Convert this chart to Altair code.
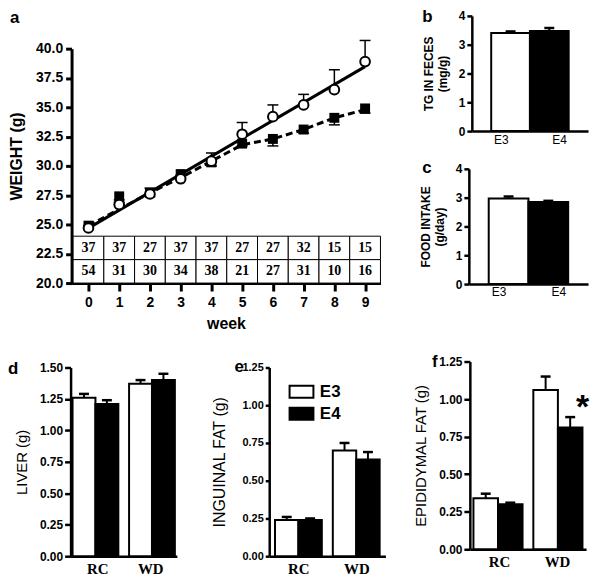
import altair as alt
import pandas as pd

W, H = 590, 570
SANS = "Liberation Sans"
SERIF = "Liberation Serif"

# ---------------- data ----------------
weeks = list(range(10))
e3_weight = [24.7, 26.7, 27.6, 28.9, 30.4, 32.7, 34.2, 35.2, 36.5, 38.9]
e3_sem = [0.2, 0.2, 0.5, 0.3, 0.7, 1.0, 1.0, 0.9, 1.7, 1.8]
e4_weight = [24.9, 27.4, 27.7, 29.3, 30.3, 31.9, 32.3, 33.1, 34.1, 34.9]
e4_sem = [0.2, 0.3, 0.3, 0.3, 0.3, 0.2, 0.6, 0.3, 0.6, 0.4]
e4_trend = [24.9, 26.3, 27.7, 29.0, 30.4, 31.8, 32.3, 33.1, 34.1, 34.8]
e3_n = [37, 37, 27, 37, 37, 27, 27, 32, 15, 15]
e4_n = [54, 31, 30, 34, 38, 21, 27, 31, 10, 16]
weight_ticks = [20.0, 22.5, 25.0, 27.5, 30.0, 32.5, 35.0, 37.5, 40.0]

genos = ["E3", "E4"]
tg_feces = [3.41, 3.48]
tg_feces_sem = [0.05, 0.10]
food_intake = [2.97, 2.85]
food_intake_sem = [0.07, 0.04]

diets = ["RC", "WD"]
liver_e3 = [1.26, 1.37]
liver_e3_sem = [0.03, 0.03]
liver_e4 = [1.21, 1.40]
liver_e4_sem = [0.03, 0.05]
inguinal_e3 = [0.24, 0.70]
inguinal_e3_sem = [0.02, 0.05]
inguinal_e4 = [0.24, 0.64]
inguinal_e4_sem = [0.01, 0.05]
epi_e3 = [0.34, 1.06]
epi_e3_sem = [0.03, 0.09]
epi_e4 = [0.30, 0.81]
epi_e4_sem = [0.01, 0.07]
epi_mark = ["", "", "", "*"]


def axis(**kw):
    base = dict(grid=False, domainColor="black", tickColor="black",
                labelColor="black", titleColor="black", labelFont=SANS,
                titleFont=SANS, domainWidth=2.5, tickWidth=2.5,
                labelFlush=False, labelOverlap=False)
    base.update(kw)
    return alt.Axis(**base)


fill_scale = alt.Scale(domain=genos, range=["white", "black"])
layers = []

# ---------------- panel a ----------------
wdf = pd.DataFrame({"week": weeks, "e3": e3_weight, "e3_sem": e3_sem,
                    "e4": e4_weight, "e4_sem": e4_sem, "e4_trend": e4_trend})
tdf = pd.DataFrame({"week": weeks + weeks, "n": e3_n + e4_n,
                    "geno": ["E3"] * 10 + ["E4"] * 10})

xs_a = alt.Scale(domain=[-0.55, 9.5], range=[64, 375], nice=False, zero=False)
ys_a = alt.Scale(domain=[20, 40], range=[275, 39], nice=False, zero=False)
x_axis_a = axis(orient="bottom", offset=275 - H, values=weeks, tickSize=8,
                tickWidth=3, domainWidth=3, labelFontSize=14,
                labelFontWeight="bold", labelPadding=5, title="week",
                titleFontSize=16, titleFontWeight="bold", titlePadding=6)
y_axis_a = axis(orient="left", offset=-64, values=weight_ticks, format=".1f",
                tickSize=6, tickWidth=3, domainWidth=3, labelFontSize=14,
                labelFontWeight="bold", labelPadding=3, title="WEIGHT (g)",
                titleFontSize=16, titleFontWeight="bold", titlePadding=11,
                titleY=147)


def XA(f):
    return alt.X(f, scale=xs_a, axis=None)


def YA(f):
    return alt.Y(f, scale=ys_a, axis=None)


tbase = alt.Chart(tdf).transform_calculate(
    x0="datum.week - 0.5", x1="datum.week + 0.5",
    y0="datum.geno == 'E3' ? 22 : 20", y1="datum.geno == 'E3' ? 24 : 22",
    ym="datum.geno == 'E3' ? 23 : 21")
layers.append(tbase.mark_rect(fill="white", stroke="black", strokeWidth=1).encode(
    x=XA("x0:Q"), x2="x1:Q", y=YA("y0:Q"), y2="y1:Q"))
layers.append(tbase.mark_text(font=SERIF, fontSize=14, fontWeight="bold",
                              color="black").encode(
    x=XA("week:Q"), y=YA("ym:Q"), text="n:N"))

wbase = alt.Chart(wdf).transform_calculate(
    e3_top="datum.e3 + datum.e3_sem", e4_bot="datum.e4 - datum.e4_sem")
layers.append(alt.Chart(wdf).transform_regression("week", "e3").mark_line(
    color="black", strokeWidth=3).encode(x=XA("week:Q"), y=YA("e3:Q")))
layers.append(wbase.mark_line(color="black", strokeWidth=3, strokeDash=[7, 4]).encode(
    x=XA("week:Q"), y=YA("e4_trend:Q")))
layers.append(wbase.mark_rule(color="black", strokeWidth=1.5).encode(
    x=XA("week:Q"), y=YA("e3:Q"), y2="e3_top:Q"))
layers.append(wbase.mark_tick(orient="horizontal", color="black", size=11,
                              thickness=1.5, opacity=1).encode(
    x=XA("week:Q"), y=YA("e3_top:Q")))
layers.append(wbase.mark_rule(color="black", strokeWidth=1.5).encode(
    x=XA("week:Q"), y=YA("e4:Q"), y2="e4_bot:Q"))
layers.append(wbase.mark_tick(orient="horizontal", color="black", size=11,
                              thickness=1.5, opacity=1).encode(
    x=XA("week:Q"), y=YA("e4_bot:Q")))
layers.append(wbase.mark_square(size=100, color="black", opacity=1).encode(
    x=XA("week:Q"), y=YA("e4:Q")))
layers.append(wbase.mark_point(shape="circle", size=95, filled=True, fill="white",
                               stroke="black", strokeWidth=2, opacity=1).encode(
    x=XA("week:Q"), y=YA("e3:Q")))
# axes of panel a (drawn on top)
layers.append(wbase.mark_point(opacity=0).encode(
    x=alt.X("week:Q", scale=xs_a, axis=x_axis_a),
    y=alt.Y("e3:Q", scale=ys_a, axis=y_axis_a)))


# ---------------- panels b, c ----------------
def geno_panel(vals, sems, xrange, yrange, title):
    df = pd.DataFrame({"geno": genos, "val": vals, "sem": sems})
    base = alt.Chart(df).transform_calculate(top="datum.val + datum.sem")
    xs = alt.Scale(domain=genos, range=xrange, paddingInner=0, paddingOuter=0.5)
    ys = alt.Scale(domain=[0, 4], range=yrange, nice=False, zero=True)
    xax = axis(orient="bottom", offset=yrange[0] - H, tickSize=0, ticks=False,
               labelFontSize=12, labelPadding=3, title=None, labelAngle=0)
    yax = axis(orient="left", offset=-xrange[0], values=[0, 1, 2, 3, 4],
               tickSize=5, labelFontSize=12, labelFontWeight="bold",
               labelPadding=2, title=title, titleFontSize=12,
               titleFontWeight="bold", titlePadding=9)
    out = [
        base.mark_bar(stroke="black", strokeWidth=2, opacity=1).encode(
            x=alt.X("geno:N", scale=xs, axis=None),
            y=alt.Y("val:Q", scale=ys, axis=None),
            fill=alt.Fill("geno:N", scale=fill_scale)),
        base.mark_rule(color="black", strokeWidth=2).encode(
            x=alt.X("geno:N", scale=xs, axis=None),
            y=alt.Y("val:Q", scale=ys, axis=None), y2="top:Q"),
        base.mark_tick(orient="horizontal", color="black", size=10,
                       thickness=2.5, opacity=1).encode(
            x=alt.X("geno:N", scale=xs, axis=None),
            y=alt.Y("top:Q", scale=ys, axis=None)),
        base.mark_point(opacity=0).encode(
            x=alt.X("geno:N", scale=xs, axis=xax),
            y=alt.Y("val:Q", scale=ys, axis=yax)),
    ]
    return out


layers += geno_panel(tg_feces, tg_feces_sem, [467, 584], [122, 6],
                     ["TG IN FECES", "(mg/g)"])
layers += geno_panel(food_intake, food_intake_sem, [464, 584], [276, 160],
                     ["FOOD INTAKE", "(g/day)"])


# ---------------- panels d, e, f ----------------
def diet_panel(e3v, e3s, e4v, e4s, xrange, yrange, ymax, yticks, title,
               title_size, label_size, tick_size, title_pad, pin, pout,
               legend=alt.Undefined, marks=None):
    df = pd.DataFrame({"diet": diets + diets, "geno": ["E3", "E3", "E4", "E4"],
                       "val": e3v + e4v, "sem": e3s + e4s})
    if marks is not None:
        df["mark"] = marks
    base = alt.Chart(df).transform_calculate(top="datum.val + datum.sem")
    xs = alt.Scale(domain=diets, range=xrange, paddingInner=pin, paddingOuter=pout)
    ys = alt.Scale(domain=[0, ymax], range=yrange, nice=False, zero=True)
    os_ = alt.Scale(domain=genos, paddingInner=0, paddingOuter=0)
    xax = axis(orient="bottom", offset=yrange[0] - H, tickSize=0, ticks=False,
               labelFont=SERIF, labelFontSize=15, labelFontWeight="bold",
               labelPadding=5, title=None, labelAngle=0)
    yax = axis(orient="left", offset=-xrange[0], values=yticks, format=".2f",
               tickSize=tick_size, labelFontSize=label_size, labelFontWeight="bold",
               labelPadding=2, title=title, titleFontSize=title_size,
               titleFontWeight="normal", titlePadding=title_pad)

    def X():
        return alt.X("diet:N", scale=xs, axis=None)

    def XO():
        return alt.XOffset("geno:N", scale=os_)

    out = [
        base.mark_bar(stroke="black", strokeWidth=2, opacity=1).encode(
            x=X(), xOffset=XO(), y=alt.Y("val:Q", scale=ys, axis=None),
            fill=alt.Fill("geno:N", scale=fill_scale, legend=legend)),
        base.mark_rule(color="black", strokeWidth=2).encode(
            x=X(), xOffset=XO(), y=alt.Y("val:Q", scale=ys, axis=None), y2="top:Q"),
        base.mark_tick(orient="horizontal", color="black", size=10,
                       thickness=2.5, opacity=1).encode(
            x=X(), xOffset=XO(), y=alt.Y("top:Q", scale=ys, axis=None)),
    ]
    if marks is not None:
        out.append(base.mark_text(font=SANS, fontSize=34, fontWeight="bold",
                                  color="black", baseline="alphabetic", dy=1).encode(
            x=X(), xOffset=XO(), y=alt.Y("top:Q", scale=ys, axis=None),
            text="mark:N"))
    out.append(base.mark_point(opacity=0).encode(
        x=alt.X("diet:N", scale=xs, axis=xax),
        y=alt.Y("val:Q", scale=ys, axis=yax)))
    return out


legend_e = alt.Legend(orient="none", legendX=287, legendY=376, title=None,
                      symbolType="M-2,-1H2V1H-2Z", symbolSize=144,
                      symbolStrokeColor="black", symbolStrokeWidth=2,
                      symbolOpacity=1, labelFont=SANS, labelFontSize=17,
                      labelFontWeight="bold", labelColor="black",
                      labelOffset=10, rowPadding=1, padding=0)

ticks_150 = [0, 0.25, 0.5, 0.75, 1.0, 1.25, 1.5]
ticks_125 = [0, 0.25, 0.5, 0.75, 1.0, 1.25]
layers += diet_panel(liver_e3, liver_e3_sem, liver_e4, liver_e4_sem,
                     [63, 170], [550, 360], 1.5, ticks_150, "LIVER (g)",
                     15, 12, 6, 10, 0.19, 0.035)
layers += diet_panel(inguinal_e3, inguinal_e3_sem, inguinal_e4, inguinal_e4_sem,
                     [263, 380], [550, 360], 1.25, ticks_125, "INGUINAL FAT (g)",
                     16, 11, 4, 15, 0.19, 0.1, legend=legend_e)
layers += diet_panel(epi_e3, epi_e3_sem, epi_e4, epi_e4_sem,
                     [465, 582], [543, 354], 1.25, ticks_125,
                     "EPIDIDYMAL FAT (g)", 15, 12, 6, 10, 0.18, 0.06,
                     marks=epi_mark)


# ---------------- panel letters ----------------
def letter(t, x, y):
    return alt.Chart(pd.DataFrame({"t": [t]})).mark_text(
        font=SANS, fontSize=17, fontWeight="bold", color="black",
        align="left", baseline="alphabetic").encode(
        text="t:N", x=alt.value(x), y=alt.value(y))


layers += [letter("a", 2, 13), letter("b", 417, 12), letter("c", 417, 164),
           letter("d", 0, 367), letter("e", 228, 365), letter("f", 427, 360)]

chart = alt.layer(*layers).resolve_scale(
    x="independent", y="independent", xOffset="independent"
).resolve_axis(x="independent", y="independent").properties(
    width=W, height=H, padding=0,
    autosize=alt.AutoSizeParams(type="none"), background="white"
).configure_view(stroke=None)

chart.save("out.html", embed_options={"renderer": "svg", "actions": False})
